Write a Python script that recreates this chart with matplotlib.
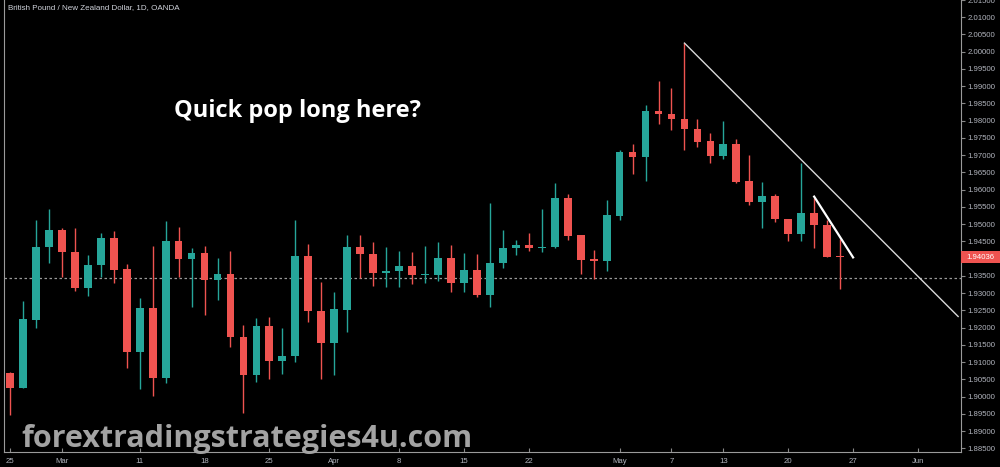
import numpy as np
import pandas as pd
import matplotlib
matplotlib.use("Agg")
import matplotlib.pyplot as plt
import matplotlib.transforms as mtransforms
from matplotlib.patches import Rectangle

## GBP/NZD daily candles (OANDA)
start_date = "2019-02-25"
opens = [1.9069, 1.9026, 1.9223, 1.9435, 1.9483, 1.9420, 1.9315, 1.9380, 1.9461, 1.9369,
         1.9128, 1.9257, 1.9055, 1.9450, 1.9399, 1.9415, 1.9338, 1.9354, 1.9174, 1.9062,
         1.9205, 1.9103, 1.9117, 1.9408, 1.9247, 1.9155, 1.9252, 1.9434, 1.9413, 1.9359,
         1.9363, 1.9378, 1.9352, 1.9352, 1.9402, 1.9328, 1.9367, 1.9294, 1.9386, 1.9430,
         1.9439, 1.9431, 1.9434, 1.9577, 1.9468, 1.9398, 1.9394, 1.9524, 1.9710, 1.9695,
         1.9827, 1.9819, 1.9806, 1.9776, 1.9741, 1.9699, 1.9733, 1.9625, 1.9565, 1.9582,
         1.9516, 1.9471, 1.9531, 1.9498, 1.9408]
highs = [1.9072, 1.9278, 1.9512, 1.9543, 1.9488, 1.9490, 1.9411, 1.9473, 1.9479, 1.9384,
         1.9286, 1.9437, 1.9510, 1.9492, 1.9431, 1.9437, 1.9402, 1.9421, 1.9206, 1.9228,
         1.9232, 1.9198, 1.9512, 1.9442, 1.9333, 1.9302, 1.9468, 1.9469, 1.9447, 1.9434,
         1.9423, 1.9418, 1.9437, 1.9447, 1.9440, 1.9417, 1.9413, 1.9562, 1.9484, 1.9455,
         1.9473, 1.9545, 1.9620, 1.9588, 1.9468, 1.9426, 1.9570, 1.9714, 1.9733, 1.9845,
         1.9914, 1.9895, 2.0025, 1.9806, 1.9765, 1.9799, 1.9746, 1.9700, 1.9622, 1.9588,
         1.9516, 1.9676, 1.9577, 1.9513, 1.9457]
lows = [1.8946, 1.9025, 1.9198, 1.9386, 1.9346, 1.9305, 1.9291, 1.9346, 1.9328, 1.9084,
        1.9023, 1.9001, 1.9039, 1.9348, 1.9259, 1.9235, 1.9280, 1.9145, 1.8951, 1.9042,
        1.9052, 1.9065, 1.9100, 1.9216, 1.9052, 1.9062, 1.9187, 1.9344, 1.9320, 1.9319,
        1.9317, 1.9325, 1.9328, 1.9336, 1.9302, 1.9302, 1.9288, 1.9259, 1.9373, 1.9410,
        1.9423, 1.9418, 1.9431, 1.9454, 1.9354, 1.9341, 1.9363, 1.9512, 1.9646, 1.9625,
        1.9789, 1.9773, 1.9714, 1.9723, 1.9678, 1.9688, 1.9619, 1.9556, 1.9490, 1.9505,
        1.9452, 1.9452, 1.9430, 1.9406, 1.9312]
closes = [1.9026, 1.9225, 1.9435, 1.9483, 1.9418, 1.9315, 1.9382, 1.9461, 1.9367, 1.9128,
          1.9257, 1.9055, 1.9450, 1.9399, 1.9415, 1.9338, 1.9354, 1.9172, 1.9062, 1.9205,
          1.9103, 1.9117, 1.9408, 1.9247, 1.9155, 1.9253, 1.9434, 1.9413, 1.9359, 1.9364,
          1.9378, 1.9352, 1.9354, 1.9402, 1.9328, 1.9367, 1.9294, 1.9388, 1.9431, 1.9439,
          1.9431, 1.9435, 1.9577, 1.9466, 1.9396, 1.9394, 1.9526, 1.9710, 1.9695, 1.9827,
          1.9818, 1.9804, 1.9775, 1.9738, 1.9699, 1.9733, 1.9623, 1.9565, 1.9581, 1.9515,
          1.9471, 1.9531, 1.9497, 1.9406, 1.94036]

tick_dates = ["2019-02-25", "2019-03-01", "2019-03-11", "2019-03-18", "2019-03-25",
              "2019-04-01", "2019-04-08", "2019-04-15", "2019-04-22", "2019-05-01",
              "2019-05-07", "2019-05-13", "2019-05-20", "2019-05-27", "2019-06-03"]
tick_labels = ["25", "Mar", "11", "18", "25", "Apr", "8", "15", "22", "May",
               "7", "13", "20", "27", "Jun"]
price_ticks = [1.885, 1.89, 1.895, 1.90, 1.905, 1.91, 1.915, 1.92, 1.925, 1.93, 1.935,
               1.945, 1.95, 1.955, 1.96, 1.965, 1.97, 1.975, 1.98, 1.985, 1.99, 1.995,
               2.00, 2.005, 2.01, 2.015]

# drawings on the chart
support_level = 1.93428
trend_x = [52, 73.1]
trend_y = [2.0025, 1.92321]
short_trend_x = [62.0, 65.0]
short_trend_y = [1.95798, 1.94035]
last_price = 1.94036

up_col = "#26a69a"
dn_col = "#ef5350"
txt_col = "#b2b5be"
small_font = "Liberation Sans"

o = np.array(opens); h = np.array(highs); l = np.array(lows); c = np.array(closes)
x = np.arange(len(o))
dates = pd.bdate_range(start_date, periods=len(o) + 12)
cols = np.where(c >= o, up_col, dn_col)

fig = plt.figure(figsize=(10, 4.67), dpi=100, facecolor="black")
ax = fig.add_axes([0.004, 15/467, 0.957, 452/467])
ax.set_facecolor("black")

## candles
ax.vlines(x, l, h, colors=cols, linewidth=1, zorder=2)
body_h = np.maximum(np.abs(c - o), 0.0003)
ax.bar(x, body_h, bottom=np.minimum(o, c), width=0.6, color=cols, linewidth=0, zorder=3)

## drawings
ax.axhline(support_level, color="#9a9a9a", linestyle=(0, (2, 2)), linewidth=0.9, zorder=1)
ax.plot(trend_x, trend_y, color="#d8d8d8", linewidth=1, zorder=4)
ax.plot(short_trend_x, short_trend_y, color="white", linewidth=1.6, zorder=4)

ax.set_xlim(-0.46, 73.32)
ax.set_ylim(1.88391, 2.01453)

tick_pos = [dates.get_loc(pd.Timestamp(d)) for d in tick_dates]
ax.set_xticks(tick_pos)
ax.set_xticklabels(tick_labels, family=small_font)
ax.yaxis.tick_right()
ax.set_yticks(price_ticks)
ax.set_yticklabels(["%.5f" % p for p in price_ticks], family=small_font)
ax.tick_params(axis="both", colors="#888888", labelcolor=txt_col, labelsize=5.6,
               length=3, width=0.8)
ax.tick_params(axis="x", direction="in", pad=4)
ax.tick_params(axis="y", direction="out", pad=1.5)

ax.spines["top"].set_visible(False)
for s in ["left", "right", "bottom"]:
    ax.spines[s].set_color("#9a9a9a")
    ax.spines[s].set_linewidth(0.8)

## last price label on the price scale
trans = mtransforms.blended_transform_factory(ax.transAxes, ax.transData)
ax.add_patch(Rectangle((1.0, last_price - 0.0017), 39/957, 0.0034, transform=trans,
                       facecolor=dn_col, edgecolor="none", clip_on=False, zorder=6))
ax.text(1.0 + 19.5/957, last_price, "%.5f" % last_price, transform=trans, color="white",
        fontsize=5.6, family=small_font, va="center", ha="center", clip_on=False, zorder=7)

ax.text(0.307, 0.754, "Quick pop long here?", transform=ax.transAxes, color="white",
        fontsize=17, fontweight="bold", family="Open Sans", ha="center", va="center")

fig.text(0.008, 1 - 8/467, "British Pound / New Zealand Dollar, 1D, OANDA",
         color="#d1d4dc", fontsize=5.8, family=small_font, ha="left", va="center")
fig.text(0.021, 1 - 439/467, "forextradingstrategies4u.com", color="#a3a3a3",
         fontsize=22, fontweight="bold", family="Open Sans", ha="left", va="center")

fig.savefig("out.png", dpi=100, facecolor="black")
